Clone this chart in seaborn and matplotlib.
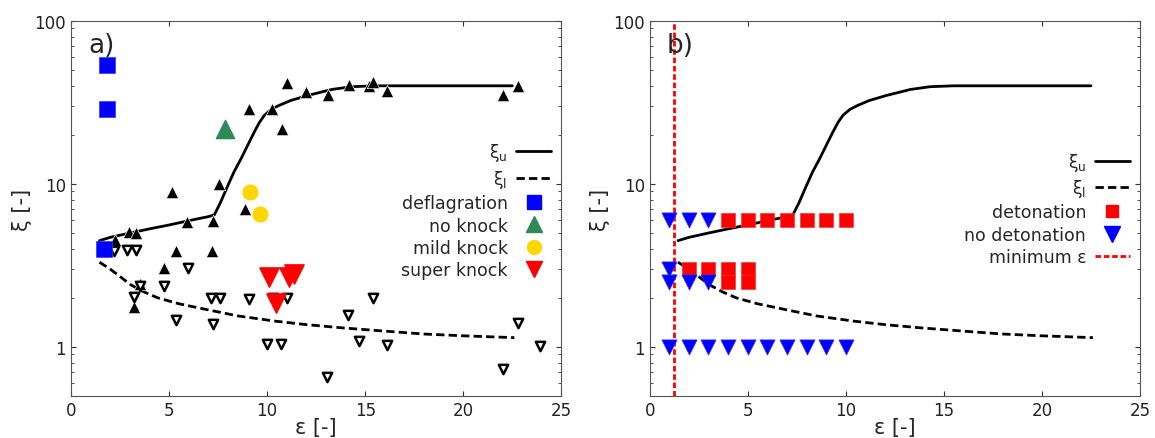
import numpy as np
import pandas as pd
import seaborn as sns
import matplotlib.pyplot as plt
from matplotlib.lines import Line2D

# limit curves (shared by both panels)
eps_u = [1.45, 2, 3, 4, 5, 6, 7, 7.3, 7.6, 8.0, 8.3, 8.67, 9.0, 9.35, 9.6, 9.86, 10.2, 10.6, 11.2, 12.07, 13.3, 14.3, 15.5, 18, 20, 22.5]
xi_u = [4.49, 4.7, 5.0, 5.3, 5.6, 5.95, 6.3, 6.45, 7.6, 9.8, 11.8, 14.3, 17.2, 20.9, 23.8, 26.4, 28.6, 30.3, 32.5, 34.9, 38.0, 39.5, 40, 40, 40, 40]
eps_l = [1.45, 2.0, 2.5, 3.06, 3.7, 4.42, 5.5, 6.97, 8.5, 10.4, 12, 13.8, 16, 18, 20, 22.6]
xi_l = [3.31, 3.0, 2.7, 2.4, 2.18, 2.0, 1.84, 1.69, 1.55, 1.44, 1.37, 1.31, 1.25, 1.2, 1.17, 1.14]

# panel a) data
up_eps = [2.24, 2.93, 3.32, 5.9, 7.26, 8.88, 5.34, 7.18, 4.74, 3.52, 3.2, 5.17, 7.55, 9.05, 10.27, 10.78,
          11.0, 12.0, 13.1, 14.15, 15.2, 15.4, 16.1, 22.0, 22.8]
up_xi = [4.53, 5.1, 5.0, 5.8, 5.9, 7.0, 3.9, 3.9, 3.04, 2.43, 1.77, 8.96, 9.93, 29, 29, 21.8,
         41.8, 36.6, 34.9, 40.2, 40, 42, 37.2, 35, 39.8]
dn_eps = [2.19, 2.87, 3.32, 3.52, 3.2, 5.95, 4.74, 5.36, 7.13, 7.6, 7.26, 9.05, 11.0, 10.3, 10.0, 10.7,
          14.1, 14.7, 15.4, 16.1, 22.8, 23.9, 22.0, 13.04]
dn_xi = [3.9, 3.94, 3.94, 2.38, 2.02, 3.07, 2.35, 1.47, 2.01, 2.01, 1.38, 1.97, 2.01, 2.0, 1.04, 1.04,
         1.56, 1.08, 2.0, 1.03, 1.40, 1.01, 0.73, 0.65]
defl_eps = [1.82, 1.85, 1.7]
defl_xi = [54, 29, 3.97]
noknock_eps = [7.86]
noknock_xi = [21.8]
mild_eps = [9.13, 9.64]
mild_xi = [8.87, 6.5]
super_eps = [10.1, 11.1, 11.35, 10.46]
super_xi = [2.67, 2.7, 2.79, 1.86]

# panel b) data
det_eps = [4, 5, 6, 7, 8, 9, 10, 2, 3, 4, 5, 4, 5]
det_xi = [6, 6, 6, 6, 6, 6, 6, 3, 3, 3, 3, 2.5, 2.5]
nodet_eps = [1, 2, 3, 1, 1, 2, 3, 1, 2, 3, 4, 5, 6, 7, 8, 9, 10]
nodet_xi = [6, 6, 6, 3, 2.5, 2.5, 2.5, 1, 1, 1, 1, 1, 1, 1, 1, 1, 1]
eps_min = 1.25

sns.set_style("ticks")
plt.rcParams['font.family'] = ['DejaVu Sans']
plt.rcParams['axes.edgecolor'] = '#555555'

fig, axes = plt.subplots(1, 2, figsize=(11.55, 4.39), dpi=100)
fig.subplots_adjust(left=0.0615, right=0.987, bottom=0.0957, top=0.95, wspace=0.18)

for ax in axes:
    sns.lineplot(x=eps_u, y=xi_u, color='black', lw=2, sort=False, ax=ax)
    sns.lineplot(x=eps_l, y=xi_l, color='black', lw=2, linestyle=(0, (3, 1.5)), sort=False, ax=ax)

ax = axes[0]
sns.scatterplot(x=up_eps, y=up_xi, marker='^', s=80, color='black', edgecolor='white', linewidth=0.5, ax=ax, zorder=3)
sns.scatterplot(x=dn_eps, y=dn_xi, marker='v', s=45, color='white', edgecolor='black', linewidth=1.8, ax=ax, zorder=3)
sns.scatterplot(x=defl_eps, y=defl_xi, marker='s', s=130, color='blue', edgecolor='#3333ff', linewidth=0.5, ax=ax, zorder=4)
sns.scatterplot(x=noknock_eps, y=noknock_xi, marker='^', s=170, color='#2e8b57', edgecolor='#2e8b57', ax=ax, zorder=4)
sns.scatterplot(x=mild_eps, y=mild_xi, marker='o', s=115, color='gold', edgecolor='gold', ax=ax, zorder=4)
sns.scatterplot(x=super_eps, y=super_xi, marker='v', s=190, color='red', edgecolor='red', ax=ax, zorder=4)

ax = axes[1]
sns.scatterplot(x=det_eps, y=det_xi, marker='s', s=100, color='red', edgecolor='#ff3333', linewidth=0.5, ax=ax, zorder=3)
sns.scatterplot(x=nodet_eps, y=nodet_xi, marker='v', s=120, color='blue', edgecolor='#3333ff', linewidth=0.5, ax=ax, zorder=4)
ax.axvline(eps_min, color='red', lw=2, linestyle=(0, (2, 1)))

for ax, tag in zip(axes, ['a)', 'b)']):
    ax.set_yscale('log')
    ax.set_xlim(0, 25)
    ax.set_ylim(0.5, 100)
    ax.set_xticks([0, 5, 10, 15, 20, 25])
    ax.set_yticks([1, 10, 100])
    ax.set_yticklabels(['1', '10', '100'])
    ax.tick_params(which='both', direction='in', top=True, right=True, labelsize=12, colors='#333333', labelcolor='#222222')
    ax.tick_params(axis='x', which='minor', top=False, bottom=False)
    ax.set_xlabel('ε [-]', fontsize=15, labelpad=-1)
    ax.set_ylabel('ξ [-]', fontsize=15, labelpad=2)
    ax.text(0.035, 0.97, tag, transform=ax.transAxes, fontsize=19, va='top', ha='left')

lines = [Line2D([], [], color='black', lw=2),
         Line2D([], [], color='black', lw=2, linestyle=(0, (3, 1.5)))]
h_a = lines + [Line2D([], [], ls='', marker='s', ms=10, color='blue'),
               Line2D([], [], ls='', marker='^', ms=12, color='#2e8b57'),
               Line2D([], [], ls='', marker='o', ms=10, color='gold'),
               Line2D([], [], ls='', marker='v', ms=12, color='red')]
l_a = ['ξ$_\\mathrm{u}$', 'ξ$_\\mathrm{l}$', 'deflagration', 'no knock', 'mild knock', 'super knock']
axes[0].legend(h_a, l_a, loc='center right', bbox_to_anchor=(1.0, 0.495), frameon=False, markerfirst=False,
               fontsize=12.5, handlelength=2, handletextpad=0.5, labelspacing=0.25, borderaxespad=0.2)

h_b = lines + [Line2D([], [], ls='', marker='s', ms=9, color='red'),
               Line2D([], [], ls='', marker='v', ms=11, color='blue'),
               Line2D([], [], color='red', lw=2, linestyle=(0, (2, 1)))]
l_b = ['ξ$_\\mathrm{u}$', 'ξ$_\\mathrm{l}$', 'detonation', 'no detonation', 'minimum ε']
axes[1].legend(h_b, l_b, loc='center right', bbox_to_anchor=(1.0, 0.50), frameon=False, markerfirst=False,
               fontsize=12.5, handlelength=2, handletextpad=0.5, labelspacing=0.25, borderaxespad=0.2)

plt.savefig('out.png', dpi=100)
